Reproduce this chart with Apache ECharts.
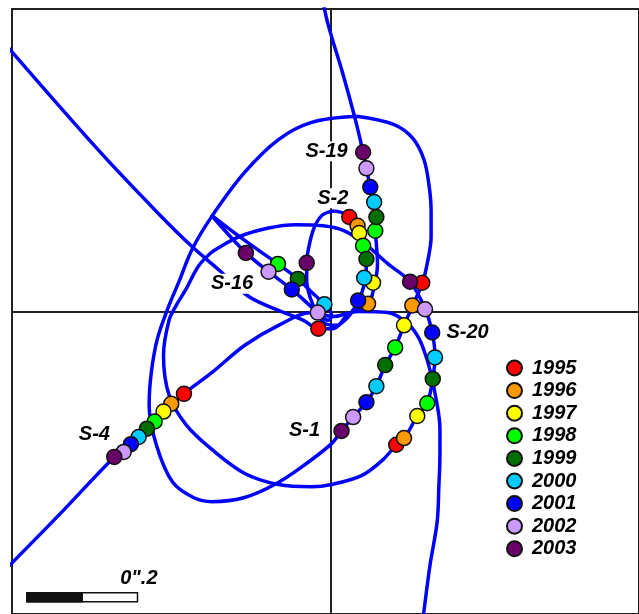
<!DOCTYPE html>
<html>
<head>
<meta charset="utf-8">
<script src="https://cdn.jsdelivr.net/npm/echarts/dist/echarts.min.js"></script>
<style>
html, body { margin: 0; padding: 0; background: #fff; }
#main { width: 639px; height: 614px; }
</style>
</head>
<body>
<div id="main"></div>
<script>
var chart = echarts.init(document.getElementById('main'));

// offsets from Sgr A* in milli-arcseconds [x, y]
var years = ['1995', '1996', '1997', '1998', '1999', '2000', '2001', '2002', '2003'];

// yearly positions, one entry per year (null = no point)
var posS1 = [[166,52],[148,11],[133,-25],[117,-65],[99,-97],[83,-135],[65,-164],[41,-191],[20,-216]];
var posS2 = [[34,171],[49,155],[52,142],[59,119],[65,95],[61,61],[50,20],[-23,-2],[-43,88]];
var posS4 = [[-265,-149],[-288,-167],[-302,-181],[-318,-199],[-332,-212],[-347,-227],[-361,-240],[-374,-254],[-391,-263]];
var posS16 = [null,null,null,[-95,86],[-59,59],[-11,13],[-70,40],[-112,72],[-153,106]];
var posS19 = [[-22,-31],[68,14],[77,52],[81,146],[83,171],[79,198],[72,225],[65,259],[59,288]];
var posS20 = [[119,-241],[133,-229],[157,-189],[175,-166],[185,-122],[189,-83],[184,-38],[171,4],[144,54]];

// orbit traces
var orbitS1 = [[47,353],[115,338],[149,313],[169,275],[178,230],[182,182],[182,135],[176,92],[167,54],[148,9],[133,-25],
  [117,-65],[99,-97],[83,-135],[65,-164],[41,-191],[20,-216],[2,-239],[-49,-279],[-101,-313],[-157,-337],
  [-214,-344],[-247,-337],[-286,-308],[-315,-241],[-328,-169],[-324,-110],[-313,-49],[-292,11],[-274,54],
  [-250,113],[-214,173],[-155,252],[-94,311],[-34,342],[47,353]];
var orbitS20 = [[-214,108],[-166,135],[-112,151],[-63,157],[-13,155],[25,146],[63,122],[104,86],[144,54],
  [171,5],[184,-38],[189,-81],[185,-122],[175,-166],[157,-189],[135,-227],[119,-241],[95,-268],[56,-297],
  [2,-313],[-34,-317],[-94,-313],[-155,-293],[-214,-250],[-261,-205],[-292,-151],[-302,-79],[-292,-16],
  [-279,11],[-261,41],[-238,83],[-214,108]];
var orbitS2 = [[7,182],[29,175],[45,157],[54,139],[61,113],[65,86],[63,59],[56,32],[45,9],[29,-13],[11,-25],
  [-7,-23],[-23,-5],[-36,23],[-43,56],[-43,88],[-38,122],[-29,153],[-14,175],[7,182]];
var orbitS16 = [[-216,175],[-157,130],[-95,86],[-59,59],[-31,32],[-11,13],[2,-7],[-4,-16],[-25,0],
  [-70,40],[-112,72],[-153,106],[-187,142],[-216,175]];
var orbitS19 = [[-598,495],[-418,290],[-310,176],[-250,117],[-198,72],[-148,27],[-94,2],[-49,-16],[-22,-31],
  [5,-31],[32,-5],[68,14],[79,45],[85,86],[83,122],[81,146],[83,171],[79,198],[72,225],[65,259],[59,288],
  [45,347],[23,428],[-4,518],[-14,563]];
var orbitS4 = [[-598,-477],[-490,-367],[-391,-263],[-328,-207],[-265,-149],[-214,-110],[-155,-61],[-94,-25],
  [-34,-2],[5,-9],[50,0],[104,-2],[140,-22],[158,-45],[169,-70],[180,-106],[193,-169],[198,-212],
  [198,-259],[196,-317],[193,-380],[180,-459],[169,-542],[166,-562]];

var starNames = ['S-1', 'S-2', 'S-4', 'S-16', 'S-19', 'S-20'];
var labelPos = [[-47,-216],[4,205],[-427,-223],[-178,50],[-7,290],[248,-38]];

var yearColors = ['#ff0000', '#ff9900', '#ffff00', '#00ff00', '#006f00', '#00ccff', '#0000ff', '#cc99ff', '#6a006a'];
var fontFam = '"Liberation Sans", Arial, sans-serif';

var allPos = [posS1, posS2, posS4, posS16, posS19, posS20];
var orbits = [orbitS1, orbitS20, orbitS2, orbitS16, orbitS19, orbitS4];

var series = [];
orbits.forEach(function (o) {
    series.push({
        type: 'line',
        data: o,
        smooth: 0.35,
        showSymbol: false,
        silent: true,
        z: 2,
        lineStyle: { color: '#0000ff', width: 3.5 }
    });
});

// star names, with a white box that hides lines behind
series.push({
    type: 'scatter',
    symbolSize: 0,
    silent: true,
    z: 4,
    itemStyle: { opacity: 1 },
    data: starNames.map(function (n, i) { return { name: n, value: labelPos[i] }; }),
    label: {
        show: true,
        position: 'inside',
        formatter: '{b}',
        color: '#000',
        opacity: 1,
        fontSize: 20,
        fontWeight: 'bold',
        fontStyle: 'italic',
        fontFamily: fontFam,
        backgroundColor: '#fff',
        padding: [0, 1]
    }
});

years.forEach(function (y, k) {
    var pts = [];
    allPos.forEach(function (p) { if (p[k]) pts.push(p[k]); });
    series.push({
        name: y,
        type: 'scatter',
        data: pts,
        symbolSize: 15,
        z: 5,
        itemStyle: { color: yearColors[k], borderColor: '#111', borderWidth: 1.5, opacity: 1 }
    });
});

// 0".2 scale bar
series.push({
    type: 'custom',
    silent: true,
    z: 5,
    data: [[-549, -517]],
    renderItem: function (params, api) {
        var a = api.coord([-549, -517]);
        var m = api.coord([-449, -517]);
        var b = api.coord([-349, -517]);
        return {
            type: 'group',
            children: [
                { type: 'rect', shape: { x: a[0], y: a[1] - 4.5, width: b[0] - a[0], height: 9 },
                  style: { fill: '#fff', stroke: '#111', lineWidth: 1.5 } },
                { type: 'rect', shape: { x: a[0], y: a[1] - 4.5, width: m[0] - a[0], height: 9 },
                  style: { fill: '#111', stroke: '#111', lineWidth: 1.5 } },
                { type: 'text', style: { x: b[0] + 20, y: a[1] - 9, text: '0".2', align: 'right', verticalAlign: 'bottom',
                  fill: '#000', font: 'italic bold 20px ' + fontFam } }
            ]
        };
    }
});

var option = {
    animation: false,
    grid: { left: 12, top: 9, right: -3, bottom: -3, show: true, borderColor: '#222', borderWidth: 2 },
    xAxis: {
        type: 'value', min: -576, max: 558,
        axisLine: { onZero: true, lineStyle: { color: '#222', width: 2 } },
        axisTick: { show: false }, axisLabel: { show: false }, splitLine: { show: false }
    },
    yAxis: {
        type: 'value', min: -547.2, max: 547.2,
        axisLine: { onZero: true, lineStyle: { color: '#222', width: 2 } },
        axisTick: { show: false }, axisLabel: { show: false }, splitLine: { show: false }
    },
    legend: {
        data: years,
        orient: 'vertical',
        left: 501,
        top: 353,
        icon: 'circle',
        itemWidth: 15,
        itemHeight: 15,
        itemGap: 2.6,
        selectedMode: false,
        textStyle: { fontSize: 20, fontWeight: 'bold', fontStyle: 'italic', color: '#000', fontFamily: fontFam, padding: [0, 0, 0, 5] }
    },
    series: series
};
chart.setOption(option);
</script>
</body>
</html>
